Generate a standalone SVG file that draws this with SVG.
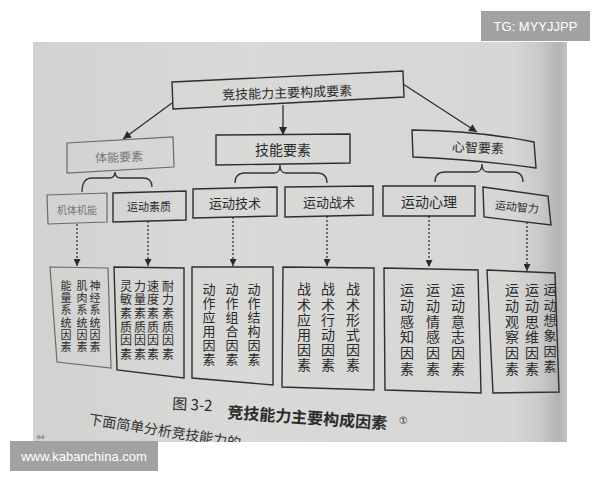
<svg xmlns="http://www.w3.org/2000/svg" width="600" height="480" viewBox="0 0 600 480">
<defs>
<linearGradient id="page" x1="0" y1="0" x2="1" y2="0">
<stop offset="0" stop-color="#d2d2d0"/>
<stop offset="0.4" stop-color="#d9d9d7"/>
<stop offset="0.9" stop-color="#d6d6d4"/>
<stop offset="0.95" stop-color="#c9c9c7"/>
<stop offset="0.985" stop-color="#b3b3b1"/>
<stop offset="1" stop-color="#c4c4c2"/>
</linearGradient>
<clipPath id="pageclip"><rect x="33" y="42" width="534" height="400"/></clipPath>
<marker id="ah" viewBox="0 0 10 10" refX="10" refY="5" markerWidth="9" markerHeight="8" markerUnits="userSpaceOnUse" orient="auto">
<path d="M0,0 L10,5 L0,10 z" fill="#2a2a2a"/>
</marker>
<marker id="ahs" viewBox="0 0 10 10" refX="10" refY="5" markerWidth="8" markerHeight="7" markerUnits="userSpaceOnUse" orient="auto">
<path d="M0,0 L10,5 L0,10 z" fill="#2a2a2a"/>
</marker>
</defs>
<style>
.box{fill:none;stroke:#2e2e2e;stroke-width:1.4}
.fbox{fill:none;stroke:#6a6a6a;stroke-width:1.2}
.t{font-family:"Noto Sans CJK SC","Noto Sans CJK JP",sans-serif;fill:#2b2b2b;text-anchor:middle;dominant-baseline:central}
.f{fill:#777}
.v{font-family:"Noto Sans CJK SC","Noto Sans CJK JP",sans-serif;fill:#2b2b2b;writing-mode:vertical-rl}
.ln{fill:none;stroke:#2e2e2e;stroke-width:1.3}
.dot{fill:none;stroke:#333;stroke-width:1.3;stroke-dasharray:2 2}
.br{fill:none;stroke:#333;stroke-width:1.3}
.wm{fill:#a2a2a2}
.wt{font-family:"Liberation Sans",Arial,sans-serif;font-size:13px;fill:#fff;text-anchor:middle;dominant-baseline:central}
</style>
<rect x="0" y="0" width="600" height="480" fill="#ffffff"/>
<rect x="33" y="42" width="534" height="400" fill="url(#page)"/>

<g id="connectors">
<line class="ln" x1="172" y1="103" x2="123" y2="139" marker-end="url(#ah)"/>
<line class="ln" x1="283" y1="105" x2="283" y2="135" marker-end="url(#ah)"/>
<line class="ln" x1="403" y1="84" x2="477" y2="132" marker-end="url(#ah)"/>
<path class="br" d="M82,192 Q82,178 92,178 L109,178 Q115,178 115,172 Q115,178 121,178 L143,178 Q152,178 152,187"/>
<path class="br" d="M235,183 Q235,173 245,173 L274,173 Q280,173 280,165 Q280,173 286,173 L317,173 Q327,173 327,183"/>
<path class="br" d="M435,182 Q435,172 445,172 L476,172 Q482,172 482,164 Q482,172 488,172 L513,172 Q523,172 523,182"/>
<line class="dot" x1="77" y1="224" x2="77" y2="266" marker-end="url(#ahs)"/>
<line class="dot" x1="148" y1="221" x2="148" y2="266" marker-end="url(#ahs)"/>
<line class="dot" x1="233" y1="217" x2="233" y2="266" marker-end="url(#ahs)"/>
<line class="dot" x1="327" y1="216" x2="327" y2="266" marker-end="url(#ahs)"/>
<line class="dot" x1="429" y1="216" x2="429" y2="267" marker-end="url(#ahs)"/>
<line class="dot" x1="527" y1="222" x2="527" y2="271" marker-end="url(#ahs)"/>
</g>

<g id="n-top">
<polygon class="box" points="172,82 403,71 404,97 173,109"/>
<text class="t" x="287" y="92" font-size="13" transform="rotate(-2 287 92)">竞技能力主要构成要素</text>
</g>

<g id="n-tineng">
<polygon class="fbox" points="67,143 173,137 174,167 67,173"/>
<text class="t f" x="119" y="156" font-size="12" transform="rotate(-2 119 156)">体能要素</text>
</g>
<g id="n-jineng">
<polygon class="box" points="216,135 350,134 350,163 216,165"/>
<text class="t" x="283" y="149" font-size="14">技能要素</text>
</g>
<g id="n-xinzhi">
<path class="box" d="M412,130 Q480,131 534,142 L536,168 Q480,160 413,157 Z"/>
<text class="t" x="478" y="147" font-size="13" transform="rotate(2 478 147)">心智要素</text>
</g>

<g id="n-jiti">
<polygon class="fbox" points="47,195 107,193 107,222 48,224"/>
<text class="t f" x="77" y="209" font-size="10">机体机能</text>
</g>
<g id="n-suzhi">
<polygon class="box" points="113,193 186,191 186,220 113,222"/>
<text class="t" x="149" y="206" font-size="11" fill="#555">运动素质</text>
</g>
<g id="n-jishu">
<polygon class="box" points="193,189 277,187 277,216 193,218"/>
<text class="t" x="235" y="202" font-size="13">运动技术</text>
</g>
<g id="n-zhanshu">
<polygon class="box" points="285,187 373,186 373,215 285,217"/>
<text class="t" x="329" y="201" font-size="13">运动战术</text>
</g>
<g id="n-xinli">
<polygon class="box" points="383,186 475,186 475,216 383,216"/>
<text class="t" x="429" y="201" font-size="14">运动心理</text>
</g>
<g id="n-zhili">
<polygon class="box" points="483,187 548,196 551,225 484,217"/>
<text class="t" x="517" y="206" font-size="11" transform="rotate(5 517 206)">运动智力</text>
</g>

<g id="n-b1">
<polygon class="fbox" points="50,267 108,268 111,368 57,362"/>
<text class="v f" x="95" y="280" font-size="11" letter-spacing="1.3">神经系统因素</text>
<text class="v f" x="82" y="280" font-size="11" letter-spacing="1.3">肌肉系统因素</text>
<text class="v f" x="66" y="280" font-size="11" letter-spacing="1.3">能量系统因素</text>
</g>
<g id="n-b2">
<polygon class="box" points="114,267 184,268 184,378 117,370"/>
<text class="v" x="168" y="280" font-size="12" fill="#444" letter-spacing="1.7">耐力素质因素</text>
<text class="v" x="153" y="280" font-size="12" fill="#444" letter-spacing="1.7">速度素质因素</text>
<text class="v" x="140" y="280" font-size="12" fill="#444" letter-spacing="1.7">力量素质因素</text>
<text class="v" x="126" y="280" font-size="12" fill="#444" letter-spacing="1.7">灵敏素质因素</text>
</g>
<g id="n-b3">
<polygon class="box" points="192,267 273,267 273,385 192,378"/>
<text class="v" x="254" y="283" font-size="13" letter-spacing="1">动作结构因素</text>
<text class="v" x="232" y="283" font-size="13" letter-spacing="1">动作组合因素</text>
<text class="v" x="209" y="283" font-size="13" letter-spacing="1">动作应用因素</text>
</g>
<g id="n-b4">
<polygon class="box" points="283,267 374,268 374,390 282,387"/>
<text class="v" x="353" y="282" font-size="14" letter-spacing="1.2">战术形式因素</text>
<text class="v" x="328" y="282" font-size="14" letter-spacing="1.2">战术行动因素</text>
<text class="v" x="304" y="282" font-size="14" letter-spacing="1.2">战术应用因素</text>
</g>
<g id="n-b5">
<polygon class="box" points="384,268 478,270 481,393 385,390"/>
<text class="v" x="458" y="283" font-size="14" letter-spacing="1.7">运动意志因素</text>
<text class="v" x="433" y="283" font-size="14" letter-spacing="1.7">运动情感因素</text>
<text class="v" x="407" y="283" font-size="14" letter-spacing="1.7">运动感知因素</text>
</g>
<g id="n-b6">
<polygon class="box" points="487,270 555,273 559,392 493,393"/>
<text class="v" x="550" y="283" font-size="13" letter-spacing="2.3">运动想象因素</text>
<text class="v" x="532" y="283" font-size="14" letter-spacing="1.7">运动思维因素</text>
<text class="v" x="512" y="283" font-size="14" letter-spacing="1.7">运动观察因素</text>
</g>

<g id="caption">
<text x="172" y="409" font-family="'Noto Sans CJK SC',sans-serif" font-size="15" fill="#2b2b2b" transform="rotate(3 172 409)">图 3-2</text>
<text x="227" y="418" font-family="'Noto Sans CJK SC',sans-serif" font-size="16" font-weight="bold" fill="#2b2b2b" transform="rotate(4 227 418)">竞技能力主要构成因素</text>
<text x="399" y="424" font-family="'DejaVu Sans',sans-serif" font-size="10" fill="#2b2b2b">①</text>
<g clip-path="url(#pageclip)">
<text x="88" y="424" font-family="'Noto Sans CJK SC',sans-serif" font-size="14" fill="#333" transform="rotate(9 88 424)">下面简单分析竞技能力的</text>
</g>
<text x="37" y="439" font-family="'Liberation Serif',serif" font-size="7" fill="#555">64·</text>
</g>

<g id="watermarks">
<rect class="wm" x="481" y="11" width="109" height="30"/>
<text class="wt" x="535.5" y="26">TG: MYYJJPP</text>
<rect class="wm" x="10" y="441" width="148" height="30"/>
<text class="wt" x="84" y="456">www.kabanchina.com</text>
</g>
</svg>
